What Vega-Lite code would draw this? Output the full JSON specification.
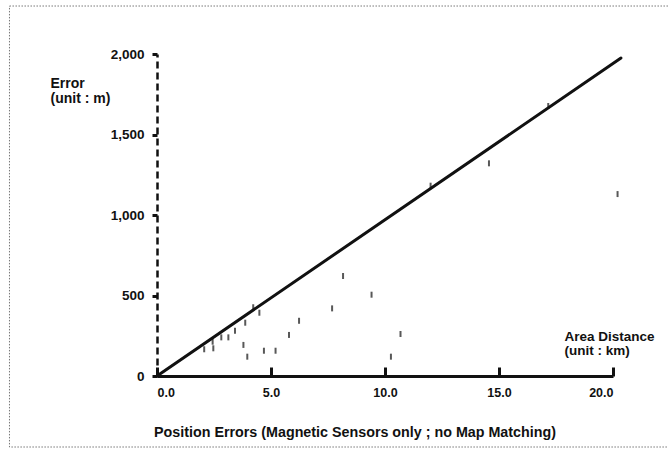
{
  "$schema": "https://vega.github.io/schema/vega-lite/v6.json",
  "width": 456,
  "height": 322,
  "autosize": {"type": "none"},
  "padding": {"left": 157, "top": 54, "right": 55, "bottom": 73},
  "background": "white",
  "config": {
    "view": {"stroke": null},
    "font": "Liberation Sans",
    "axis": {"grid": false, "labelColor": "#111", "titleColor": "#111", "domainColor": "#111", "tickColor": "#111", "labelFont": "Liberation Sans", "titleFont": "Liberation Sans", "labelFontWeight": "bold", "titleFontWeight": "bold"}
  },
  "title": {"text": "Position Errors (Magnetic Sensors only ; no Map Matching)", "orient": "bottom", "anchor": "middle", "dx": -30, "offset": -22, "fontSize": 14.3, "fontWeight": "bold", "font": "Liberation Sans", "color": "#111"},
  "datasets": {
    "pts": [
      {"x": 2.07, "y": 166}, {"x": 2.44, "y": 213}, {"x": 2.47, "y": 172}, {"x": 2.82, "y": 240},
      {"x": 3.13, "y": 240}, {"x": 3.42, "y": 281}, {"x": 3.79, "y": 193}, {"x": 3.87, "y": 331},
      {"x": 3.96, "y": 120}, {"x": 4.22, "y": 427}, {"x": 4.49, "y": 393}, {"x": 4.69, "y": 157},
      {"x": 5.2, "y": 157}, {"x": 5.79, "y": 255}, {"x": 6.23, "y": 343}, {"x": 7.68, "y": 420},
      {"x": 8.16, "y": 621}, {"x": 9.41, "y": 505}, {"x": 10.26, "y": 120}, {"x": 10.68, "y": 261},
      {"x": 12.0, "y": 1182}, {"x": 14.56, "y": 1321}, {"x": 17.16, "y": 1677}, {"x": 20.2, "y": 1130}
    ],
    "line": [{"x": 0, "y": 0}, {"x": 20.35, "y": 1975}],
    "frame": [{"x": -6.47, "x2": 24, "y": 2298, "y2": -441}]
  },
  "encoding": {
    "x": {"field": "x", "type": "quantitative", "scale": {"domain": [0, 20], "nice": false, "zero": false},
      "axis": {"values": [0, 5, 10, 15, 20], "format": ".1f", "domainWidth": 3, "tickSize": -9, "tickWidth": 3,
        "labelPadding": 19, "labelFontSize": 12.5, "title": ["Area Distance", "(unit : km)"], "titleFontSize": 13.5,
        "titleAngle": 0, "titleAlign": "left", "titleBaseline": "top", "titleX": 407, "titleY": -47, "titleLineHeight": 14}},
    "y": {"field": "y", "type": "quantitative", "scale": {"domain": [0, 2000], "nice": false},
      "axis": {"values": [0, 500, 1000, 1500, 2000], "format": ",d", "domainWidth": 2.5, "domainDash": [7, 4],
        "tickSize": 5, "tickWidth": 3, "labelPadding": 8, "labelFontSize": 13.5, "title": ["Error", "(unit : m)"],
        "titleFontSize": 14, "titleAngle": 0, "titleAlign": "left", "titleBaseline": "top", "titleX": -107, "titleY": 22, "titleLineHeight": 15}}
  },
  "layer": [
    {"data": {"name": "frame"}, "mark": {"type": "rect", "fill": "white", "fillOpacity": 0, "stroke": "#777", "strokeWidth": 1, "strokeDash": [1.5, 1.5], "clip": false},
      "encoding": {"x2": {"field": "x2"}, "y2": {"field": "y2"}}},
    {"data": {"name": "line"}, "mark": {"type": "line", "color": "#111", "strokeWidth": 3, "strokeCap": "round"}},
    {"data": {"name": "pts"}, "mark": {"type": "tick", "orient": "vertical", "color": "#111", "size": 6, "thickness": 2}}
  ]
}
